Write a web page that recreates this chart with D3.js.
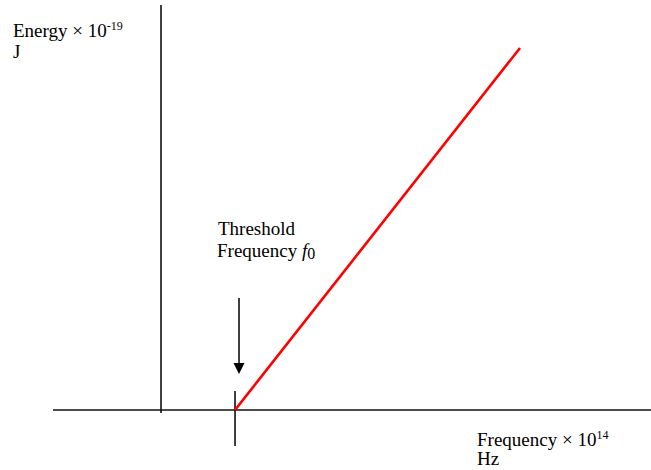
<!DOCTYPE html>
<html>
<head>
<meta charset="utf-8">
<script src="https://cdn.jsdelivr.net/npm/d3@7"></script>
<style>
  html, body { margin: 0; padding: 0; background: #fff; }
  svg { display: block; }
  text { font-family: "Liberation Serif", "Times New Roman", serif; fill: #000; }
</style>
</head>
<body>
<svg id="chart" width="651" height="470"></svg>
<script>
// Photoelectric effect: kinetic energy vs. frequency (units of 10^14 Hz and 10^-19 J)
const thresholdFreq = [2];            // f0, ×10^14 Hz
const lineFreqs = [2, 9.7];           // ×10^14 Hz
const lineEnergies = [0, 5.1];        // ×10^-19 J
const yAxisLabel = ["Energy × 10", "-19", "J"];
const xAxisLabel = ["Frequency × 10", "14", "Hz"];
const thresholdLabel = ["Threshold", "Frequency "];

const svg = d3.select("#chart");
const fs = 19, fsSup = 12;

const x = d3.scaleLinear().domain([0, 9.7]).range([161, 520]);
const y = d3.scaleLinear().domain([0, 5.1]).range([410, 48]);

// axes
svg.append("line")
  .attr("x1", 53).attr("x2", 651)
  .attr("y1", y(0)).attr("y2", y(0))
  .attr("stroke", "#111").attr("stroke-width", 1.6);
svg.append("line")
  .attr("x1", x(0)).attr("x2", x(0))
  .attr("y1", 5).attr("y2", 413)
  .attr("stroke", "#111").attr("stroke-width", 1.6);

// threshold tick
svg.append("line")
  .attr("x1", x(thresholdFreq[0])).attr("x2", x(thresholdFreq[0]))
  .attr("y1", 391).attr("y2", 446)
  .attr("stroke", "#111").attr("stroke-width", 1.6);

// energy line
const data = lineFreqs.map((f, i) => ({ f, e: lineEnergies[i] }));
svg.append("path")
  .datum(data)
  .attr("d", d3.line().x(d => x(d.f)).y(d => y(d.e)))
  .attr("fill", "none")
  .attr("stroke", "#ff0000")
  .attr("stroke-width", 2.6);

// arrow pointing at f0
const ax = x(thresholdFreq[0]) + 4;
svg.append("line")
  .attr("x1", ax).attr("x2", ax)
  .attr("y1", 298).attr("y2", 364)
  .attr("stroke", "#111").attr("stroke-width", 1.6);
svg.append("path")
  .attr("d", `M${ax - 5.5},363 L${ax + 5.5},363 L${ax},374 Z`)
  .attr("fill", "#000");

// y-axis label
const yl = svg.append("text").attr("x", 13).attr("y", 37).attr("font-size", fs);
yl.append("tspan").text(yAxisLabel[0]);
yl.append("tspan").attr("dy", -7).attr("font-size", fsSup).text(yAxisLabel[1]);
svg.append("text").attr("x", 13).attr("y", 58).attr("font-size", fs).text(yAxisLabel[2]);

// x-axis label
const xl = svg.append("text").attr("x", 477).attr("y", 446).attr("font-size", fs);
xl.append("tspan").text(xAxisLabel[0]);
xl.append("tspan").attr("dy", -7).attr("font-size", fsSup).text(xAxisLabel[1]);
svg.append("text").attr("x", 477).attr("y", 465).attr("font-size", fs).text(xAxisLabel[2]);

// threshold annotation
svg.append("text").attr("x", 218).attr("y", 235).attr("font-size", fs).text(thresholdLabel[0]);
const tl = svg.append("text").attr("x", 217).attr("y", 257).attr("font-size", fs);
tl.append("tspan").text(thresholdLabel[1]);
tl.append("tspan").attr("font-style", "italic").text("f");
tl.append("tspan").attr("dy", 2).attr("font-size", 16).text("0");
</script>
</body>
</html>
